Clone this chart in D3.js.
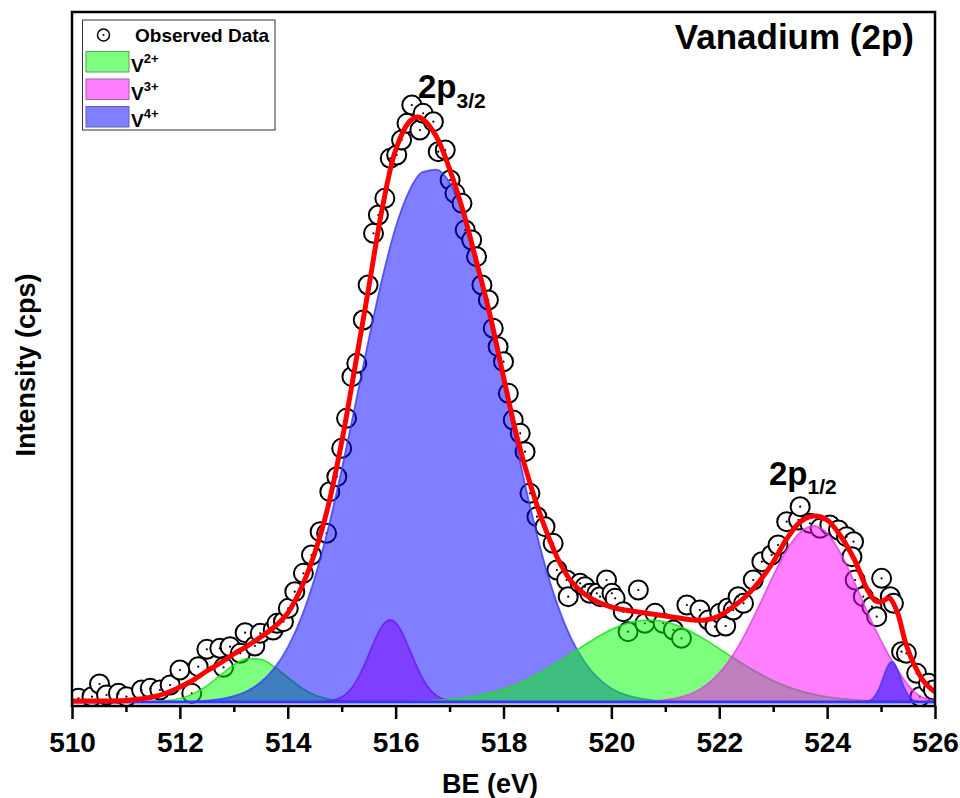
<!DOCTYPE html>
<html>
<head>
<meta charset="utf-8">
<script src="https://cdn.jsdelivr.net/npm/d3@7"></script>
<style>
  html, body { margin: 0; padding: 0; background: #fff; }
  svg { display: block; font-family: "Liberation Sans", Arial, sans-serif; font-weight: bold; }
</style>
</head>
<body>
<svg id="chart" width="960" height="798"></svg>
<script>
// ---------------- DATA ----------------
const xTicks = [510, 512, 514, 516, 518, 520, 522, 524, 526];
const xMinorTicks = [511, 513, 515, 517, 519, 521, 523, 525];

// Observed data (BE in eV, intensity in arbitrary units)
const obsBE = [510.12, 510.37, 510.51, 510.64, 510.86, 511.01, 511.29, 511.45, 511.63, 511.82,
  512.00, 512.22, 512.34, 512.50, 512.74, 512.81, 512.93, 513.12, 513.21, 513.39,
  513.49, 513.73, 513.80, 513.92, 514.01, 514.13, 514.29, 514.44, 514.60, 514.72,
  514.78, 514.91, 515.00, 515.09, 515.19, 515.28, 515.40, 515.49, 515.59, 515.68,
  515.80, 515.90, 516.02, 516.11, 516.21, 516.30, 516.45, 516.51, 516.70, 516.79,
  516.92, 517.01, 517.10, 517.23, 517.29, 517.41, 517.50, 517.60, 517.72, 517.81,
  517.90, 518.00, 518.09, 518.18, 518.31, 518.40, 518.49, 518.62, 518.77, 518.92,
  518.99, 519.17, 519.20, 519.42, 519.51, 519.60, 519.73, 519.79, 519.91, 520.01,
  520.07, 520.22, 520.31, 520.50, 520.62, 520.81, 520.96, 521.15, 521.30, 521.40,
  521.64, 521.80, 521.92, 522.01, 522.12, 522.16, 522.26, 522.35, 522.45, 522.63,
  522.79, 522.97, 523.09, 523.25, 523.47, 523.50, 523.68, 523.87, 524.05, 524.21,
  524.36, 524.49, 524.46, 524.52, 524.67, 524.83, 524.92, 525.01, 525.17, 525.23,
  525.38, 525.47, 525.66, 525.72, 525.88, 525.97];
const obsI = [3.7, 5.3, 18, 7, 8.7, 5.3, 12, 13.7, 12, 17,
  32, 8.7, 35.3, 52.7, 53.7, 34.7, 55.3, 48.7, 69.3, 56,
  68.7, 72, 78.7, 80.3, 93.7, 110.3, 128.7, 147, 170.3, 168.7,
  210.3, 225.3, 253.7, 283.7, 325.3, 338.7, 382, 417, 468.7, 487,
  503.7, 543.7, 547, 562, 578.7, 597, 572, 588.7, 580.3, 550.3,
  552, 522, 508.7, 498.7, 472, 462, 445.3, 417, 402, 373.7,
  355.3, 340.3, 308.7, 282, 268.7, 250.3, 208.7, 185.3, 175.3, 158.7,
  132, 122, 105.3, 118.7, 115.3, 108.7, 108.7, 105.3, 122, 108.7,
  103.7, 90.3, 70.3, 112, 78.7, 88.7, 78.7, 72, 63.7, 97,
  92, 82, 75.3, 88.7, 76, 94, 92, 105.3, 98.7, 122,
  140.3, 147, 157, 180.3, 182, 195.3, 178.7, 173.7, 177, 172,
  165.3, 160.3, 145.3, 122, 105.3, 95.3, 85.3, 123.7, 105.3, 98.7,
  50.3, 48.7, 28.7, 5.3, 18.7, 12];

// Fit envelope (red line)
const fitBE = [510.0, 510.5, 511.0, 511.25, 511.5, 511.75, 512.0, 512.25, 512.5, 512.75,
  513.0, 513.25, 513.5, 513.75, 514.0, 514.25, 514.5, 514.75, 515.0, 515.25,
  515.5, 515.75, 516.0, 516.25, 516.4, 516.5, 516.75, 517.0, 517.25, 517.5,
  517.75, 518.0, 518.25, 518.5, 518.75, 519.0, 519.25, 519.5, 519.75, 520.0,
  520.25, 520.5, 520.75, 521.0, 521.25, 521.5, 521.75, 522.0, 522.25, 522.5,
  522.75, 523.0, 523.25, 523.5, 523.75, 524.0, 524.25, 524.5, 524.75, 524.9,
  525.0, 525.15, 525.3, 525.45, 525.6, 525.8, 526.0];
const fitI = [1, 1, 1.5, 3, 5, 9, 15, 22, 31, 39,
  48, 56, 65, 75, 89, 114, 149, 196, 260, 336,
  414, 493, 552, 580, 585, 583, 566, 533, 491, 440,
  387, 325, 265, 217, 177, 144, 121, 108, 100, 95,
  92, 90, 88, 86, 84, 82, 82, 86, 95, 106,
  121, 140, 163, 180, 186, 182, 166, 143, 112, 101,
  100, 104, 90, 60, 39, 20, 10];

// Component peaks (drawn in this order)
const v2aBE = [511.25, 511.5, 511.75, 512.0, 512.25, 512.5, 512.75, 513.0, 513.25, 513.5,
  513.75, 514.0, 514.25, 514.5, 514.75, 515.0, 515.25, 515.5];
const v2aI = [0, 0.4, 1.3, 3.5, 8.2, 16.1, 26.7, 37.1, 43.4, 42.6,
  35.2, 24.5, 14.3, 7.0, 2.9, 1.0, 0.3, 0];

const v3aBE = [514.6, 514.7, 514.8, 514.9, 515.0, 515.1, 515.2, 515.3, 515.4, 515.5,
  515.6, 515.7, 515.8, 515.9, 516.0, 516.1, 516.2, 516.3, 516.4, 516.5,
  516.6, 516.7, 516.8, 516.9, 517.0, 517.1, 517.2];
const v3aI = [0, 0.6, 1.2, 2.6, 5.0, 8.9, 15.0, 23.6, 34.5, 47.1,
  60.0, 71.4, 79.2, 82.0, 79.2, 71.4, 60.0, 47.1, 34.5, 23.6,
  15.0, 8.9, 5.0, 2.6, 1.2, 0.6, 0];

const v4aBE = [512.0, 512.25, 512.5, 512.75, 513.0, 513.25, 513.5, 513.75, 514.0, 514.25,
  514.5, 514.75, 515.0, 515.25, 515.5, 515.75, 516.0, 516.25, 516.5, 516.75,
  517.0, 517.25, 517.5, 517.75, 518.0, 518.25, 518.5, 518.75, 519.0, 519.25,
  519.5, 519.75, 520.0, 520.25, 520.5, 520.75, 521.0, 521.25];
const v4aI = [0, 0.3, 1.4, 2.9, 5.8, 11.0, 19.7, 33.6, 54.6, 84.1,
  123.9, 173.6, 232.2, 296.6, 362, 423, 474.4, 510.7, 529.8, 532.4,
  519.6, 489.3, 443.0, 385, 320.2, 254.8, 193.8, 140.6, 97.4, 64.1,
  40.2, 24.0, 13.6, 7.4, 3.8, 1.8, 0.8, 0];

const v2bBE = [516.25, 516.5, 516.75, 517.0, 517.25, 517.5, 517.75, 518.0, 518.25, 518.5,
  518.75, 519.0, 519.25, 519.5, 519.75, 520.0, 520.25, 520.5, 520.75, 521.0,
  521.25, 521.5, 521.75, 522.0, 522.25, 522.5, 522.75, 523.0, 523.25, 523.5,
  523.75, 524.0, 524.25, 524.5, 524.75, 525.0, 525.25];
const v2bI = [0, 0.9, 1.5, 2.5, 3.9, 6.0, 8.9, 12.8, 17.7, 23.9,
  31.1, 39.2, 48.0, 56.8, 65.1, 72.4, 77.9, 81.2, 81.9, 80.1,
  75.9, 69.6, 61.9, 53.3, 44.4, 35.9, 28.1, 21.3, 15.6, 11.1,
  7.6, 5.1, 3.3, 2.1, 1.2, 0.7, 0];

const v3bBE = [520.75, 521.0, 521.25, 521.5, 521.75, 522.0, 522.25, 522.5, 522.75, 523.0,
  523.25, 523.5, 523.75, 524.0, 524.25, 524.5, 524.75, 525.0, 525.25, 525.5,
  525.75, 526.0];
const v3bI = [0, 2.0, 4.4, 8.8, 16.6, 28.8, 46.6, 69.9, 97.5, 126.2,
  151.8, 169.6, 176, 168.7, 148.6, 120.3, 89.5, 61.2, 37, 17,
  5, 1.5];

const v4bBE = [524.65, 524.7, 524.75, 524.8, 524.85, 524.9, 524.95, 525.0, 525.05, 525.1,
  525.15, 525.2, 525.25, 525.3, 525.35, 525.4, 525.45, 525.5, 525.55, 525.6,
  525.65, 525.7, 525.75];
const v4bI = [0, 0.3, 0.8, 1.8, 3.7, 6.9, 11.8, 18.3, 25.8, 32.9,
  38.1, 40, 38.1, 32.9, 25.8, 18.3, 11.8, 6.9, 3.7, 1.8,
  0.8, 0.3, 0];

const legendLabels = ["Observed Data", "V", "V", "V"];
const legendSups = ["", "2+", "3+", "4+"];

// ---------------- DRAWING ----------------
const svg = d3.select("#chart");
const W = 960, H = 798;
const x0 = 72, x1 = 935, yTop = 12, yBot = 706;

const x = d3.scaleLinear().domain([510, 526]).range([x0, x1]);
const y = d3.scaleLinear().domain([-4, 690]).range([yBot, yTop]);

svg.append("rect").attr("width", W).attr("height", H).attr("fill", "#fff");

svg.append("defs").append("clipPath").attr("id", "plotclip")
  .append("rect").attr("x", x0).attr("y", yTop).attr("width", x1 - x0).attr("height", yBot - yTop);

const plot = svg.append("g").attr("clip-path", "url(#plotclip)");

// observed points
const obs = obsBE.map((b, i) => ({ b, v: obsI[i] }));
const pts = plot.append("g");
pts.selectAll("circle.o").data(obs).enter().append("circle")
  .attr("class", "o")
  .attr("cx", d => x(d.b)).attr("cy", d => y(d.v)).attr("r", 9.5)
  .attr("fill", "#fff").attr("stroke", "#000").attr("stroke-width", 2);
pts.selectAll("circle.c").data(obs).enter().append("circle")
  .attr("class", "c")
  .attr("cx", d => x(d.b)).attr("cy", d => y(d.v)).attr("r", 1.1)
  .attr("fill", "#000");

// components
const comps = [
  { be: v2aBE, v: v2aI, fill: "#00ff00", line: "#22dd22" },
  { be: v3aBE, v: v3aI, fill: "#ff00ff", line: "#cc33ee" },
  { be: v4aBE, v: v4aI, fill: "#0000ff", line: "#3a3aff" },
  { be: v2bBE, v: v2bI, fill: "#00ff00", line: "#22dd22" },
  { be: v3bBE, v: v3bI, fill: "#ff00ff", line: "#e040e0" },
  { be: v4bBE, v: v4bI, fill: "#0000ff", line: "#3a3aff" }
];
const area = d3.area().x(d => x(d[0])).y0(y(0)).y1(d => y(d[1])).curve(d3.curveMonotoneX);
const topLine = d3.line().x(d => x(d[0])).y(d => y(d[1])).curve(d3.curveMonotoneX);
comps.forEach(c => {
  const pd = c.be.map((b, i) => [b, c.v[i]]);
  plot.append("path").attr("d", area(pd)).attr("fill", c.fill).attr("fill-opacity", 0.5);
  plot.append("path").attr("d", topLine(pd)).attr("fill", "none")
    .attr("stroke", c.line).attr("stroke-opacity", 0.8).attr("stroke-width", 1.8);
});
// baseline
plot.append("line").attr("x1", x(510)).attr("x2", x(526)).attr("y1", y(0)).attr("y2", y(0))
  .attr("stroke", "#3535ff").attr("stroke-width", 3);

// fit
const fitPts = fitBE.map((b, i) => [b, fitI[i]]);
plot.append("path")
  .attr("d", d3.line().x(d => x(d[0])).y(d => y(d[1])).curve(d3.curveCatmullRom.alpha(0.5))(fitPts))
  .attr("fill", "none").attr("stroke", "#ff0000").attr("stroke-width", 5).attr("stroke-linejoin", "round");

// frame
svg.append("rect").attr("x", x0).attr("y", yTop).attr("width", x1 - x0).attr("height", yBot - yTop)
  .attr("fill", "none").attr("stroke", "#000").attr("stroke-width", 2.5);

// axes
const xAxis = svg.append("g").attr("transform", `translate(0,${yBot})`)
  .call(d3.axisBottom(x).tickValues(xTicks).tickSize(13).tickPadding(13).tickFormat(d3.format("d")));
xAxis.select(".domain").remove();
xAxis.selectAll(".tick line").attr("stroke", "#000").attr("stroke-width", 2.5);
xAxis.selectAll(".tick text").attr("font-size", 28).attr("font-weight", "bold")
  .attr("font-family", "Liberation Sans, Arial, sans-serif").attr("fill", "#000");
const xMinor = svg.append("g").attr("transform", `translate(0,${yBot})`)
  .call(d3.axisBottom(x).tickValues(xMinorTicks).tickSize(6).tickFormat(""));
xMinor.select(".domain").remove();
xMinor.selectAll(".tick line").attr("stroke", "#000").attr("stroke-width", 2.5);

// axis titles
svg.append("text").attr("x", 490).attr("y", 793).attr("text-anchor", "middle")
  .attr("font-size", 27).text("BE (eV)");
svg.append("text").attr("transform", "translate(35,365) rotate(-90)").attr("text-anchor", "middle")
  .attr("font-size", 27).text("Intensity (cps)");

// title
svg.append("text").attr("x", 914).attr("y", 49).attr("text-anchor", "end")
  .attr("font-size", 35).text("Vanadium (2p)");

// peak annotations
const a1 = svg.append("text").attr("x", 418).attr("y", 98).attr("font-size", 33);
a1.append("tspan").text("2p");
a1.append("tspan").attr("font-size", 21).attr("dy", 10).text("3/2");
const a2 = svg.append("text").attr("x", 769).attr("y", 485).attr("font-size", 33);
a2.append("tspan").text("2p");
a2.append("tspan").attr("font-size", 21).attr("dy", 9).text("1/2");

// legend
const lg = svg.append("g");
lg.append("rect").attr("x", 82.5).attr("y", 20).attr("width", 192.5).attr("height", 110)
  .attr("fill", "#fff").attr("stroke", "#333").attr("stroke-width", 1);
lg.append("circle").attr("cx", 103.5).attr("cy", 35).attr("r", 6).attr("fill", "#fff")
  .attr("stroke", "#000").attr("stroke-width", 1.5);
lg.append("circle").attr("cx", 103.5).attr("cy", 35).attr("r", 1).attr("fill", "#000");
const lgFill = ["#00ff00", "#ff00ff", "#0000ff"];
const lgStroke = ["#5aa05a", "#a060a0", "#6060b0"];
[0, 1, 2].forEach(i => {
  lg.append("rect").attr("x", 86).attr("y", 51.5 + i * 27.5).attr("width", 43).attr("height", 20.5)
    .attr("fill", lgFill[i]).attr("fill-opacity", 0.5).attr("stroke", lgStroke[i]).attr("stroke-width", 1);
});
legendLabels.forEach((lab, i) => {
  const t = lg.append("text").attr("x", i === 0 ? 135 : 131).attr("y", i === 0 ? 42 : 72 + (i - 1) * 27.5)
    .attr("font-size", 19);
  t.append("tspan").text(lab);
  if (legendSups[i]) t.append("tspan").attr("font-size", 13).attr("dy", -9).text(legendSups[i]);
});
</script>
</body>
</html>
